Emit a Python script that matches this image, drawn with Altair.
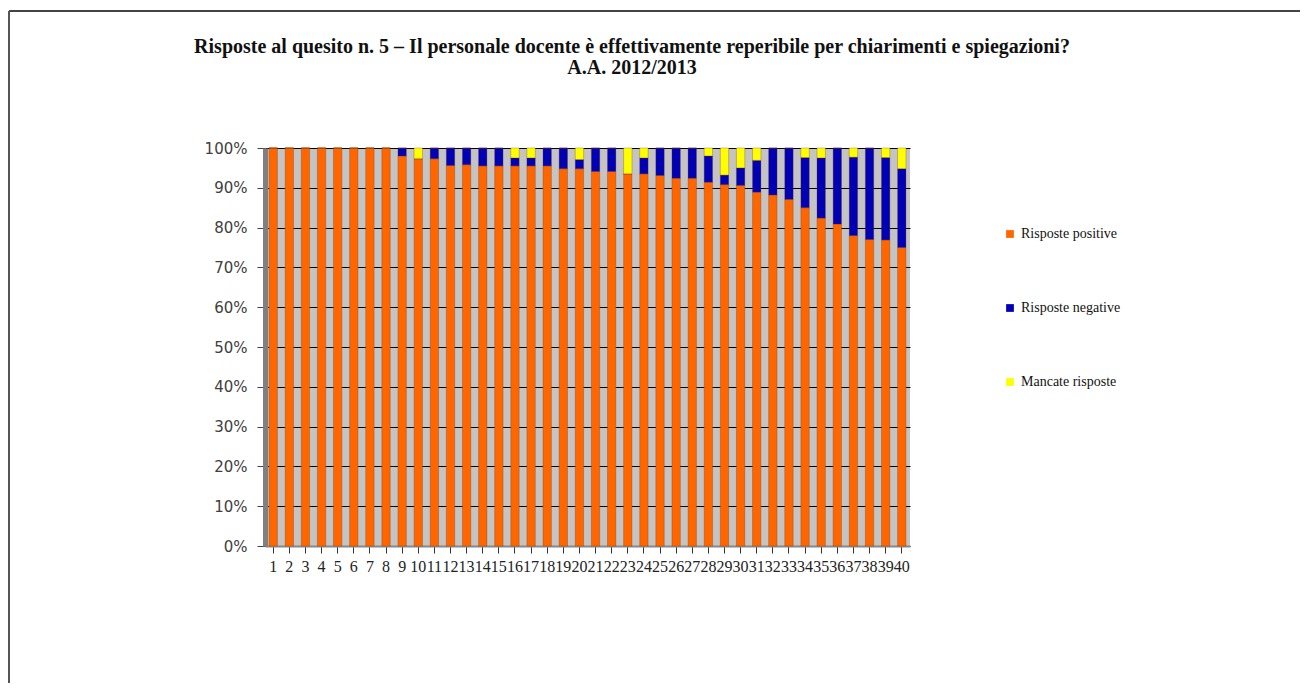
import altair as alt
import pandas as pd

categories = [str(i) for i in range(1, 41)]
positive = [100, 100, 100, 100, 100, 100, 100, 100, 98.0, 97.3,
            97.3, 95.6, 95.8, 95.5, 95.5, 95.5, 95.5, 95.5, 94.8, 94.8,
            94.1, 94.1, 93.5, 93.5, 93.1, 92.4, 92.4, 91.4, 90.8, 90.6,
            88.9, 88.2, 87.1, 85.0, 82.4, 80.9, 78.0, 77.0, 76.9, 75.0]
negative = [0, 0, 0, 0, 0, 0, 0, 0, 2.0, 0,
            2.7, 4.4, 4.2, 4.5, 4.5, 2.0, 2.0, 4.5, 5.2, 2.3,
            5.9, 5.9, 0, 4.0, 6.9, 7.6, 7.6, 6.6, 2.4, 4.4,
            8.0, 11.8, 12.9, 12.6, 15.1, 19.1, 19.7, 23.0, 20.7, 19.8]
missing = [0, 0, 0, 0, 0, 0, 0, 0, 0, 2.7,
           0, 0, 0, 0, 0, 2.5, 2.5, 0, 0, 2.9,
           0, 0, 6.5, 2.5, 0, 0, 0, 2.0, 6.8, 5.0,
           3.1, 0, 0, 2.4, 2.5, 0, 2.3, 0, 2.4, 5.2]
series = ["Risposte positive", "Risposte negative", "Mancate risposte"]
colors = ["#FF6600", "#0000B4", "#FFFF00"]
title_lines = ["Risposte al quesito n. 5 – Il personale docente è effettivamente reperibile per chiarimenti e spiegazioni?",
               "A.A. 2012/2013"]

rows = []
for i, c in enumerate(categories):
    for k, (s, v) in enumerate(zip(series, [positive[i], negative[i], missing[i]])):
        rows.append({"cat": c, "serie": s, "val": v, "ord": k})
df = pd.DataFrame(rows)

serif = "Liberation Serif"

bars = alt.Chart(df).mark_bar(stroke="#7a3000", strokeWidth=0.3).encode(
    x=alt.X("cat:N", sort=categories, title=None,
            scale=alt.Scale(paddingInner=0.48, paddingOuter=0.25),
            axis=alt.Axis(labelAngle=0, labelFont=serif, labelFontSize=16,
                          labelColor="#222222", labelPadding=5, tickSize=7,
                          tickColor="#333333", domainColor="#888888",
                          domainWidth=2, labelOverlap=False, grid=False)),
    y=alt.Y("val:Q", stack="zero", title=None,
            scale=alt.Scale(domain=[0, 100], nice=False),
            axis=alt.Axis(values=list(range(0, 101, 10)),
                          labelExpr="datum.value + '%'",
                          labelFont="DejaVu Sans", labelFontSize=15,
                          labelColor="#404040", labelPadding=10,
                          tickSize=8, tickColor="#444444",
                          domainColor="#808080", domainWidth=5,
                          grid=True, gridColor="#000000", gridWidth=1)),
    color=alt.Color("serie:N", sort=series,
                    scale=alt.Scale(domain=series, range=colors),
                    legend=alt.Legend(title=None, orient="none",
                                      legendX=738, legendY=79,
                                      symbolType="square", symbolSize=60,
                                      symbolStrokeWidth=0,
                                      labelFont=serif, labelFontSize=14,
                                      labelColor="#111111",
                                      rowPadding=60, labelOffset=4)),
    order=alt.Order("ord:Q"),
)

title1 = alt.Chart(alt.Data(values=[{"t": title_lines[0]}])).mark_text(
    font=serif, fontSize=20, fontWeight="bold", color="#111111",
    align="center", baseline="middle").encode(
    text="t:N", x=alt.value(367), y=alt.value(-101))
title2 = alt.Chart(alt.Data(values=[{"t": title_lines[1]}])).mark_text(
    font=serif, fontSize=20, fontWeight="bold", color="#111111",
    align="center", baseline="middle").encode(
    text="t:N", x=alt.value(367), y=alt.value(-80))

frame = alt.Chart(alt.Data(values=[{}])).mark_rule(color="#444444", strokeWidth=2).encode(
    x=alt.value(-256), x2=alt.value(1100), y=alt.value(-137))
frame2 = alt.Chart(alt.Data(values=[{}])).mark_rule(color="#555555", strokeWidth=2).encode(
    x=alt.value(-256), y=alt.value(-137), y2=alt.value(600))

chart = alt.layer(bars, title1, title2, frame, frame2).properties(
    width=645, height=398,
    autosize=alt.AutoSizeParams(type="none"),
    padding={"left": 257, "top": 140, "right": 390, "bottom": 137},
).configure_view(fill="#C4C4C4", stroke=None)

chart.save("out.html", embed_options={"renderer": "svg", "actions": False})
